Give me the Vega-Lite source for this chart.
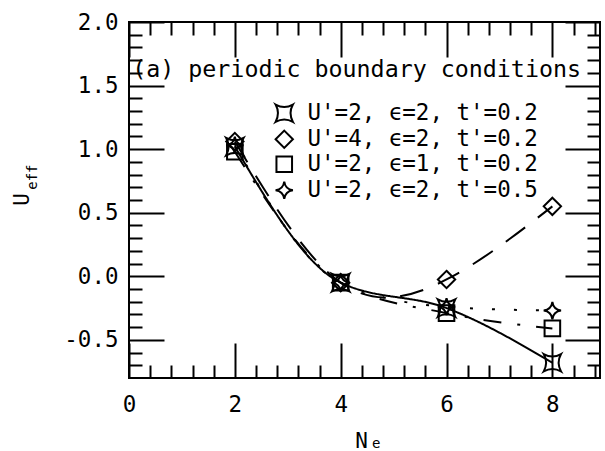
{
  "$schema": "https://vega.github.io/schema/vega-lite/v6.json",
  "width": 471,
  "height": 356,
  "autosize": "none",
  "padding": {"left": 129, "top": 22, "right": 5, "bottom": 73},
  "background": "white",
  "config": {
    "view": {"stroke": "black", "strokeWidth": 2},
    "font": "DejaVu Sans Mono",
    "axis": {"labelFont": "DejaVu Sans Mono", "titleFont": "DejaVu Sans Mono", "labelColor": "black", "titleColor": "black", "domainColor": "black", "tickColor": "black", "domainWidth": 2, "tickWidth": 2, "grid": false, "labelFlush": false, "labelOverlap": false, "labelBound": false}
  },
  "datasets": {
    "pts": [
      {"k": "a", "series": "U'=2, ϵ=2, t'=0.2", "n": 2, "u": 1.02},
      {"k": "a", "series": "U'=2, ϵ=2, t'=0.2", "n": 4, "u": -0.05},
      {"k": "a", "series": "U'=2, ϵ=2, t'=0.2", "n": 6, "u": -0.25},
      {"k": "a", "series": "U'=2, ϵ=2, t'=0.2", "n": 8, "u": -0.68},
      {"k": "b", "series": "U'=4, ϵ=2, t'=0.2", "n": 2, "u": 1.06},
      {"k": "b", "series": "U'=4, ϵ=2, t'=0.2", "n": 4, "u": -0.05},
      {"k": "b", "series": "U'=4, ϵ=2, t'=0.2", "n": 6, "u": -0.025},
      {"k": "b", "series": "U'=4, ϵ=2, t'=0.2", "n": 8, "u": 0.55},
      {"k": "c", "series": "U'=2, ϵ=1, t'=0.2", "n": 2, "u": 0.98},
      {"k": "c", "series": "U'=2, ϵ=1, t'=0.2", "n": 4, "u": -0.05},
      {"k": "c", "series": "U'=2, ϵ=1, t'=0.2", "n": 6, "u": -0.29},
      {"k": "c", "series": "U'=2, ϵ=1, t'=0.2", "n": 8, "u": -0.41},
      {"k": "d", "series": "U'=2, ϵ=2, t'=0.5", "n": 2, "u": 1.03},
      {"k": "d", "series": "U'=2, ϵ=2, t'=0.5", "n": 4, "u": -0.05},
      {"k": "d", "series": "U'=2, ϵ=2, t'=0.5", "n": 6, "u": -0.24},
      {"k": "d", "series": "U'=2, ϵ=2, t'=0.5", "n": 8, "u": -0.27}
    ]
  },
  "layer": [
    {
      "data": {"name": "pts"},
      "transform": [{"filter": "datum.k != 'b'"}],
      "mark": {"type": "line", "interpolate": "monotone", "color": "black", "strokeWidth": 2},
      "encoding": {
        "x": {"field": "n", "type": "quantitative", "scale": {"domain": [0, 8.9], "nice": false, "zero": false},
          "axis": {"orient": "bottom", "values": [0, 2, 4, 6, 8], "ticks": false, "domain": false,
            "labelFontSize": 22.5, "labelPadding": 15,
            "title": "N", "titleFontSize": 21, "titleFontWeight": "normal", "titleX": 232, "titleY": 69, "titleBaseline": "alphabetic", "titleAlign": "center"}},
        "y": {"field": "u", "type": "quantitative", "scale": {"domain": [-0.8, 2.0], "nice": false, "zero": false},
          "axis": {"orient": "left", "values": [-0.5, 0, 0.5, 1, 1.5, 2], "ticks": false, "domain": false,
            "labelExpr": "(datum.value < 0 ? '-' : '') + format(abs(datum.value), '.1f')",
            "labelFontSize": 22.5, "labelPadding": 11,
            "title": "U", "titleFontSize": 21, "titleFontWeight": "normal", "titleAngle": 270, "titleX": -101, "titleY": 177, "titleBaseline": "alphabetic", "titleAlign": "center"}},
        "detail": {"field": "k", "type": "nominal"},
        "strokeDash": {"field": "k", "type": "nominal", "legend": null,
          "scale": {"domain": ["a", "b", "c", "d"], "range": [[1, 0], [24, 16], [18, 16, 3, 16], [3, 19]]}}
      }
    },
    {
      "data": {"name": "pts"},
      "transform": [{"filter": "datum.k == 'b'"}],
      "mark": {"type": "line", "interpolate": "natural", "color": "black", "strokeWidth": 2, "strokeDash": [24, 16]},
      "encoding": {
        "x": {"field": "n", "type": "quantitative",
          "axis": {"orient": "top", "offset": -356, "values": [0, 2, 4, 6, 8], "tickSize": 35, "labels": false, "domain": false, "title": null}},
        "y": {"field": "u", "type": "quantitative",
          "axis": {"orient": "right", "offset": -471, "values": [-0.5, 0, 0.5, 1, 1.5, 2], "tickSize": 35, "labels": false, "domain": false, "title": null}}
      }
    },
    {
      "data": {"name": "pts"},
      "mark": {"type": "point", "opacity": 0},
      "encoding": {
        "x": {"field": "n", "type": "quantitative",
          "axis": {"orient": "top", "offset": -356, "values": [0.4, 0.8, 1.2, 1.6, 2.4, 2.8, 3.2, 3.6, 4.4, 4.8, 5.2, 5.6, 6.4, 6.8, 7.2, 7.6, 8.4, 8.8], "tickSize": 13, "labels": false, "domain": false, "title": null}},
        "y": {"field": "u", "type": "quantitative",
          "axis": {"orient": "right", "offset": -471, "values": [-0.7, -0.6, -0.4, -0.3, -0.2, -0.1, 0.1, 0.2, 0.3, 0.4, 0.6, 0.7, 0.8, 0.9, 1.1, 1.2, 1.3, 1.4, 1.6, 1.7, 1.8, 1.9], "tickSize": 13, "labels": false, "domain": false, "title": null}}
      }
    },
    {
      "data": {"name": "pts"},
      "mark": {"type": "point", "opacity": 0},
      "encoding": {
        "x": {"field": "n", "type": "quantitative",
          "axis": {"orient": "bottom", "offset": -356, "values": [0, 2, 4, 6, 8], "tickSize": 35, "labels": false, "domain": false, "title": null}},
        "y": {"field": "u", "type": "quantitative",
          "axis": {"orient": "left", "offset": -471, "values": [-0.5, 0, 0.5, 1, 1.5, 2], "tickSize": 35, "labels": false, "domain": false, "title": null}}
      }
    },
    {
      "data": {"name": "pts"},
      "mark": {"type": "point", "opacity": 0},
      "encoding": {
        "x": {"field": "n", "type": "quantitative",
          "axis": {"orient": "bottom", "offset": -356, "values": [0.4, 0.8, 1.2, 1.6, 2.4, 2.8, 3.2, 3.6, 4.4, 4.8, 5.2, 5.6, 6.4, 6.8, 7.2, 7.6, 8.4, 8.8], "tickSize": 13, "labels": false, "domain": false, "title": null}},
        "y": {"field": "u", "type": "quantitative",
          "axis": {"orient": "left", "offset": -471, "values": [-0.7, -0.6, -0.4, -0.3, -0.2, -0.1, 0.1, 0.2, 0.3, 0.4, 0.6, 0.7, 0.8, 0.9, 1.1, 1.2, 1.3, 1.4, 1.6, 1.7, 1.8, 1.9], "tickSize": 13, "labels": false, "domain": false, "title": null}}
      }
    },
    {
      "mark": {"type": "rule", "color": "black", "strokeWidth": 2},
      "encoding": {"y": {"datum": 0, "axis": null}}
    },
    {
      "data": {"name": "pts"},
      "mark": {"type": "point", "filled": false, "color": "black", "strokeWidth": 2, "size": 300, "opacity": 1},
      "encoding": {
        "x": {"field": "n", "type": "quantitative", "axis": null},
        "y": {"field": "u", "type": "quantitative", "axis": null},
        "shape": {"field": "series", "type": "nominal",
          "scale": {"domain": ["U'=2, ϵ=2, t'=0.2", "U'=4, ϵ=2, t'=0.2", "U'=2, ϵ=1, t'=0.2", "U'=2, ϵ=2, t'=0.5"],
            "range": [
              "M-1,-1Q0,-0.45,1,-1Q0.45,0,1,1Q0,0.45,-1,1Q-0.45,0,-1,-1Z",
              "M0,-1L1,0L0,1L-1,0Z",
              "M-0.9,-0.9L0.9,-0.9L0.9,0.9L-0.9,0.9Z",
              "M0,-1Q0.12,-0.12,1,0Q0.12,0.12,0,1Q-0.12,0.12,-1,0Q-0.12,-0.12,0,-1Z"
            ]},
          "legend": {"orient": "none", "legendX": 144, "legendY": 80, "title": null,
            "labelFontSize": 22.5, "labelColor": "black", "labelOffset": 12, "labelLimit": 400,
            "symbolSize": 300, "symbolStrokeWidth": 2, "rowPadding": 0}}
      }
    },
    {
      "data": {"values": [{"label": "(a) periodic boundary conditions", "x": 0.06, "y": 1.566}]},
      "mark": {"type": "text", "font": "DejaVu Sans Mono", "fontSize": 23.3, "align": "left", "baseline": "alphabetic", "color": "black"},
      "encoding": {
        "x": {"field": "x", "type": "quantitative", "axis": null},
        "y": {"field": "y", "type": "quantitative", "axis": null},
        "text": {"field": "label"}
      }
    },
    {
      "data": {"values": [{"label": "eff", "x": -1.815, "y": 0.78, "a": 270}, {"label": "e", "x": 4.67, "y": -1.318, "a": 0}]},
      "mark": {"type": "text", "font": "DejaVu Sans Mono", "fontSize": 14, "fontWeight": "normal", "align": "center", "baseline": "middle", "color": "black"},
      "encoding": {
        "x": {"field": "x", "type": "quantitative", "axis": null},
        "y": {"field": "y", "type": "quantitative", "axis": null},
        "angle": {"field": "a", "type": "quantitative", "scale": null},
        "text": {"field": "label"}
      }
    }
  ],
  "resolve": {"axis": {"x": "independent", "y": "independent"}}
}
